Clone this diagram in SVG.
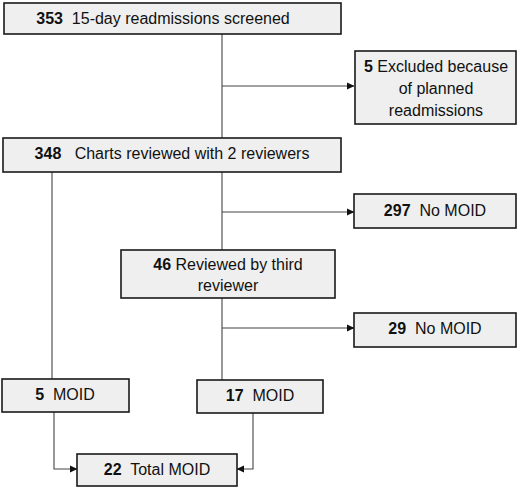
<svg xmlns="http://www.w3.org/2000/svg" width="520" height="488" viewBox="0 0 520 488">
<style>
.box{fill:#efefef;stroke:#1a1a1a;stroke-width:1.6}
.t{font-family:"Liberation Sans",Arial,sans-serif;font-size:16px;fill:#111;text-anchor:middle}
.b{font-weight:bold}
.ln{fill:none;stroke:#444;stroke-width:1.1}
</style>
<defs>
<marker id="ah" markerWidth="8" markerHeight="8" refX="7" refY="4" orient="auto" markerUnits="userSpaceOnUse">
<path d="M0,0.5 L7.5,4 L0,7.5 Z" fill="#111"/>
</marker>
</defs>
<g id="connectors">
<path class="ln" d="M222,34 V138"/>
<path class="ln" d="M222,86 H354" marker-end="url(#ah)"/>
<path class="ln" d="M222,172 V250"/>
<path class="ln" d="M222,212 H354" marker-end="url(#ah)"/>
<path class="ln" d="M52,172 V379"/>
<path class="ln" d="M222,298 V380"/>
<path class="ln" d="M222,328 H354" marker-end="url(#ah)"/>
<path class="ln" d="M54,412 V469 H77" marker-end="url(#ah)"/>
<path class="ln" d="M253,413 V469 H237" marker-end="url(#ah)"/>
</g>
<g id="n353">
<rect class="box" x="4" y="3" width="337" height="31"/>
<text class="t" x="163" y="24" xml:space="preserve"><tspan class="b">353</tspan>  15-day readmissions screened</text>
</g>
<g id="nexcluded">
<rect class="box" x="355" y="51" width="161" height="73"/>
<text class="t" x="436" y="72"><tspan class="b">5</tspan> Excluded because</text>
<text class="t" x="436" y="94">of planned</text>
<text class="t" x="436" y="116">readmissions</text>
</g>
<g id="n348">
<rect class="box" x="3" y="138" width="338" height="34"/>
<text class="t" x="172" y="159" xml:space="preserve"><tspan class="b">348</tspan>   Charts reviewed with 2 reviewers</text>
</g>
<g id="n297">
<rect class="box" x="354" y="194" width="162" height="34"/>
<text class="t" x="435" y="216" xml:space="preserve"><tspan class="b">297</tspan>  No MOID</text>
</g>
<g id="n46">
<rect class="box" x="121" y="250" width="214" height="48"/>
<text class="t" x="228" y="270"><tspan class="b">46</tspan> Reviewed by third</text>
<text class="t" x="228" y="291">reviewer</text>
</g>
<g id="n29">
<rect class="box" x="354" y="313" width="162" height="34"/>
<text class="t" x="435" y="334" xml:space="preserve"><tspan class="b">29</tspan>  No MOID</text>
</g>
<g id="n5moid">
<rect class="box" x="2" y="379" width="127" height="33"/>
<text class="t" x="65" y="400" xml:space="preserve"><tspan class="b">5</tspan>  MOID</text>
</g>
<g id="n17moid">
<rect class="box" x="197" y="380" width="126" height="33"/>
<text class="t" x="260" y="401" xml:space="preserve"><tspan class="b">17</tspan>  MOID</text>
</g>
<g id="n22">
<rect class="box" x="77" y="454" width="160" height="32"/>
<text class="t" x="157" y="475" xml:space="preserve"><tspan class="b">22</tspan>  Total MOID</text>
</g>
</svg>
